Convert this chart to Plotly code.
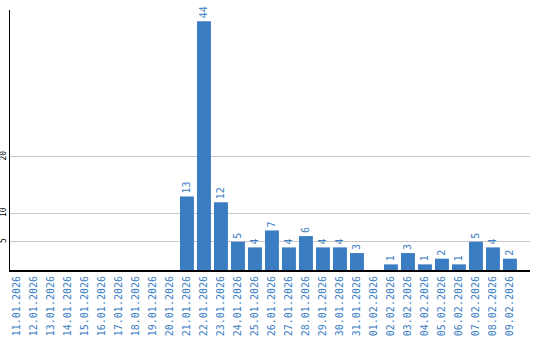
import plotly.graph_objects as go

dates = ["11.01.2026","12.01.2026","13.01.2026","14.01.2026","15.01.2026","16.01.2026",
         "17.01.2026","18.01.2026","19.01.2026","20.01.2026","21.01.2026","22.01.2026",
         "23.01.2026","24.01.2026","25.01.2026","26.01.2026","27.01.2026","28.01.2026",
         "29.01.2026","30.01.2026","31.01.2026","01.02.2026","02.02.2026","03.02.2026",
         "04.02.2026","05.02.2026","06.02.2026","07.02.2026","08.02.2026","09.02.2026"]
values = [0,0,0,0,0,0,0,0,0,0,13,44,12,5,4,7,4,6,4,4,3,0,1,3,1,2,1,5,4,2]
y_ticks = [5, 10, 20]

blue = "#3b7dc3"
labels = [str(v) if v > 0 else "" for v in values]

fig = go.Figure(go.Bar(
    x=dates, y=values, marker=dict(color=blue, line=dict(width=0)),
    text=labels, textposition="outside", textangle=-90,
    textfont=dict(family="DejaVu Sans Mono", size=10, color=blue),
    cliponaxis=False,
))
fig.update_layout(
    width=540, height=340,
    margin=dict(l=10, r=10, t=10, b=70),
    plot_bgcolor="white", paper_bgcolor="white",
    bargap=0.18, showlegend=False,
)
fig.update_xaxes(
    type="category", range=[-0.41, 30.18],
    tickangle=-90, tickfont=dict(family="DejaVu Sans Mono", size=10, color=blue),
    showline=True, linecolor="black", linewidth=2, showgrid=False,
    ticks="", automargin=False,
)
fig.update_yaxes(
    range=[0, 46], tickvals=y_ticks, ticktext=[str(t) for t in y_ticks],
    tickangle=-90, tickfont=dict(family="DejaVu Sans Mono", size=8, color="black"),
    showgrid=True, gridcolor="#c8c8c8", gridwidth=1,
    showline=True, linecolor="black", linewidth=1, zeroline=False,
    ticks="", automargin=False, ticklabelstandoff=0,
)
fig.write_html("out.html")
